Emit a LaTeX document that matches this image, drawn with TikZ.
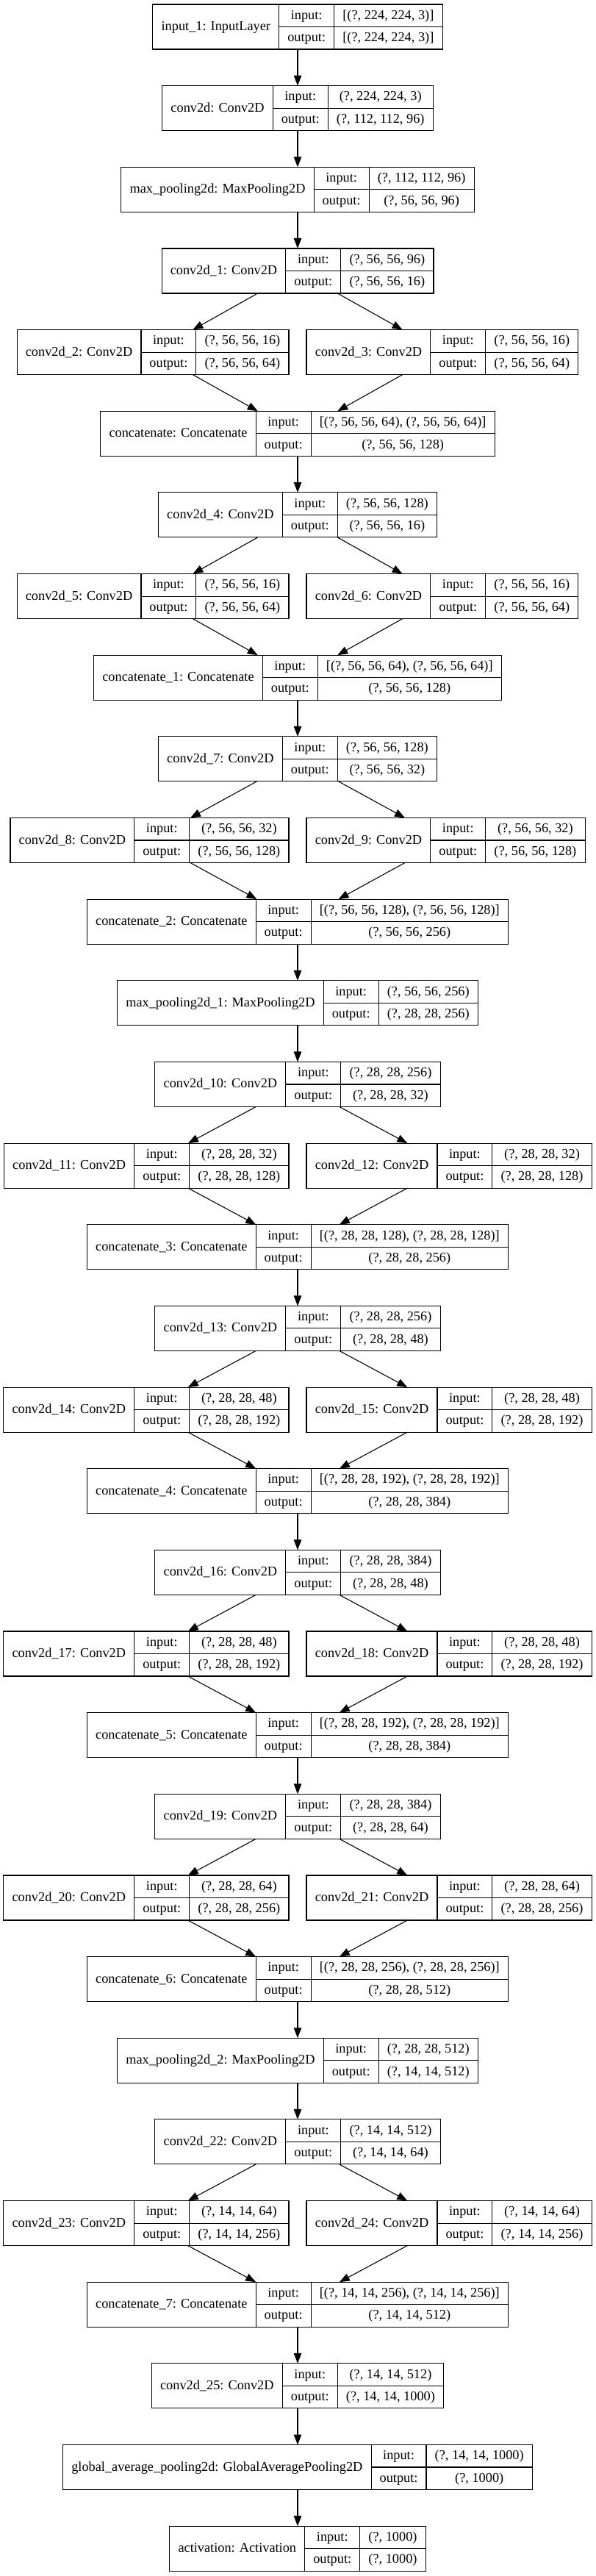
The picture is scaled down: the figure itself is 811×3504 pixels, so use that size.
\documentclass[tikz,border=0pt]{standalone}
\usepackage{fontspec}
\setmainfont{Liberation Serif}
\usetikzlibrary{arrows.meta}
\newdimen\kdA \newdimen\kdB \newdimen\kdC \newdimen\kdD
\newcommand\kfont{\rmfamily\fontsize{18.3pt}{22pt}\selectfont}
\tikzset{
  box/.style={draw, line width=1.1pt, inner sep=0pt, outer sep=0pt, minimum height=61pt},
  divline/.style={line width=1.1pt},
  txt/.style={inner sep=0pt, text height=13pt, text depth=3pt, anchor=center, font=\kfont},
  edge/.style={line width=1.1pt, -{Triangle[length=14pt, width=10.5pt]}}
}
% #1 name, #2 x, #3 fraction of width left of x, #4 rank, #5 label, #6 input, #7 output
\newcommand\kerasLayer[7]{%
  \pgfinterruptpicture
    \setbox0=\hbox{\kfont #5}\global\kdA=\wd0
    \setbox0=\hbox{\kfont output:}\global\kdB=\wd0
    \setbox0=\hbox{\kfont #6}\global\kdC=\wd0
    \setbox0=\hbox{\kfont #7}\global\kdD=\wd0
  \endpgfinterruptpicture
  \ifdim\kdD>\kdC \global\kdC=\kdD\fi
  \pgfmathsetmacro\kA{\kdA+23.5}%
  \pgfmathsetmacro\kB{\kdB+23}%
  \pgfmathsetmacro\kC{\kdC+23.5}%
  \pgfmathsetmacro\kW{\kA+\kB+\kC}%
  \pgfmathsetmacro\kL{#2-#3*\kW}%
  \pgfmathsetmacro\kT{-(6+(#4-1)*110.65)}%
  \node[box, minimum width=\kW pt, anchor=north west] (#1) at (\kL,\kT) {};
  \draw[divline] (\kL+\kA,\kT) -- ++(0,-61);
  \draw[divline] (\kL+\kA+\kB,\kT) -- ++(0,-61);
  \draw[divline] (\kL+\kA,\kT-30.5) -- (\kL+\kW,\kT-30.5);
  \node[txt] (#1-l) at (\kL+\kA/2,\kT-30.5) {#5};
  \node[txt] (#1-ik) at (\kL+\kA+\kB/2,\kT-15.25) {input:};
  \node[txt] (#1-ok) at (\kL+\kA+\kB/2,\kT-45.75) {output:};
  \node[txt] (#1-iv) at (\kL+\kA+\kB+\kC/2,\kT-15.25) {#6};
  \node[txt] (#1-ov) at (\kL+\kA+\kB+\kC/2,\kT-45.75) {#7};
}
\begin{document}
\begin{tikzpicture}[x=1pt,y=1pt]
\useasboundingbox[fill=white] (0,0) rectangle (811,-3504);
\def\mx{405}\def\lx{393}\def\rx{417}
\kerasLayer{in1}{\mx}{0.5}{1}{input\_1: InputLayer}{[(?, 224, 224, 3)]}{[(?, 224, 224, 3)]}
\kerasLayer{c0}{\mx}{0.5}{2}{conv2d: Conv2D}{(?, 224, 224, 3)}{(?, 112, 112, 96)}
\kerasLayer{mp0}{\mx}{0.5}{3}{max\_pooling2d: MaxPooling2D}{(?, 112, 112, 96)}{(?, 56, 56, 96)}
\kerasLayer{c1}{\mx}{0.5}{4}{conv2d\_1: Conv2D}{(?, 56, 56, 96)}{(?, 56, 56, 16)}
\kerasLayer{c2}{\lx}{1}{5}{conv2d\_2: Conv2D}{(?, 56, 56, 16)}{(?, 56, 56, 64)}
\kerasLayer{c3}{\rx}{0}{5}{conv2d\_3: Conv2D}{(?, 56, 56, 16)}{(?, 56, 56, 64)}
\kerasLayer{cat0}{\mx}{0.5}{6}{concatenate: Concatenate}{[(?, 56, 56, 64), (?, 56, 56, 64)]}{(?, 56, 56, 128)}
\kerasLayer{c4}{\mx}{0.5}{7}{conv2d\_4: Conv2D}{(?, 56, 56, 128)}{(?, 56, 56, 16)}
\kerasLayer{c5}{\lx}{1}{8}{conv2d\_5: Conv2D}{(?, 56, 56, 16)}{(?, 56, 56, 64)}
\kerasLayer{c6}{\rx}{0}{8}{conv2d\_6: Conv2D}{(?, 56, 56, 16)}{(?, 56, 56, 64)}
\kerasLayer{cat1}{\mx}{0.5}{9}{concatenate\_1: Concatenate}{[(?, 56, 56, 64), (?, 56, 56, 64)]}{(?, 56, 56, 128)}
\kerasLayer{c7}{\mx}{0.5}{10}{conv2d\_7: Conv2D}{(?, 56, 56, 128)}{(?, 56, 56, 32)}
\kerasLayer{c8}{\lx}{1}{11}{conv2d\_8: Conv2D}{(?, 56, 56, 32)}{(?, 56, 56, 128)}
\kerasLayer{c9}{\rx}{0}{11}{conv2d\_9: Conv2D}{(?, 56, 56, 32)}{(?, 56, 56, 128)}
\kerasLayer{cat2}{\mx}{0.5}{12}{concatenate\_2: Concatenate}{[(?, 56, 56, 128), (?, 56, 56, 128)]}{(?, 56, 56, 256)}
\kerasLayer{mp1}{\mx}{0.5}{13}{max\_pooling2d\_1: MaxPooling2D}{(?, 56, 56, 256)}{(?, 28, 28, 256)}
\kerasLayer{c10}{\mx}{0.5}{14}{conv2d\_10: Conv2D}{(?, 28, 28, 256)}{(?, 28, 28, 32)}
\kerasLayer{c11}{\lx}{1}{15}{conv2d\_11: Conv2D}{(?, 28, 28, 32)}{(?, 28, 28, 128)}
\kerasLayer{c12}{\rx}{0}{15}{conv2d\_12: Conv2D}{(?, 28, 28, 32)}{(?, 28, 28, 128)}
\kerasLayer{cat3}{\mx}{0.5}{16}{concatenate\_3: Concatenate}{[(?, 28, 28, 128), (?, 28, 28, 128)]}{(?, 28, 28, 256)}
\kerasLayer{c13}{\mx}{0.5}{17}{conv2d\_13: Conv2D}{(?, 28, 28, 256)}{(?, 28, 28, 48)}
\kerasLayer{c14}{\lx}{1}{18}{conv2d\_14: Conv2D}{(?, 28, 28, 48)}{(?, 28, 28, 192)}
\kerasLayer{c15}{\rx}{0}{18}{conv2d\_15: Conv2D}{(?, 28, 28, 48)}{(?, 28, 28, 192)}
\kerasLayer{cat4}{\mx}{0.5}{19}{concatenate\_4: Concatenate}{[(?, 28, 28, 192), (?, 28, 28, 192)]}{(?, 28, 28, 384)}
\kerasLayer{c16}{\mx}{0.5}{20}{conv2d\_16: Conv2D}{(?, 28, 28, 384)}{(?, 28, 28, 48)}
\kerasLayer{c17}{\lx}{1}{21}{conv2d\_17: Conv2D}{(?, 28, 28, 48)}{(?, 28, 28, 192)}
\kerasLayer{c18}{\rx}{0}{21}{conv2d\_18: Conv2D}{(?, 28, 28, 48)}{(?, 28, 28, 192)}
\kerasLayer{cat5}{\mx}{0.5}{22}{concatenate\_5: Concatenate}{[(?, 28, 28, 192), (?, 28, 28, 192)]}{(?, 28, 28, 384)}
\kerasLayer{c19}{\mx}{0.5}{23}{conv2d\_19: Conv2D}{(?, 28, 28, 384)}{(?, 28, 28, 64)}
\kerasLayer{c20}{\lx}{1}{24}{conv2d\_20: Conv2D}{(?, 28, 28, 64)}{(?, 28, 28, 256)}
\kerasLayer{c21}{\rx}{0}{24}{conv2d\_21: Conv2D}{(?, 28, 28, 64)}{(?, 28, 28, 256)}
\kerasLayer{cat6}{\mx}{0.5}{25}{concatenate\_6: Concatenate}{[(?, 28, 28, 256), (?, 28, 28, 256)]}{(?, 28, 28, 512)}
\kerasLayer{mp2}{\mx}{0.5}{26}{max\_pooling2d\_2: MaxPooling2D}{(?, 28, 28, 512)}{(?, 14, 14, 512)}
\kerasLayer{c22}{\mx}{0.5}{27}{conv2d\_22: Conv2D}{(?, 14, 14, 512)}{(?, 14, 14, 64)}
\kerasLayer{c23}{\lx}{1}{28}{conv2d\_23: Conv2D}{(?, 14, 14, 64)}{(?, 14, 14, 256)}
\kerasLayer{c24}{\rx}{0}{28}{conv2d\_24: Conv2D}{(?, 14, 14, 64)}{(?, 14, 14, 256)}
\kerasLayer{cat7}{\mx}{0.5}{29}{concatenate\_7: Concatenate}{[(?, 14, 14, 256), (?, 14, 14, 256)]}{(?, 14, 14, 512)}
\kerasLayer{c25}{\mx}{0.5}{30}{conv2d\_25: Conv2D}{(?, 14, 14, 512)}{(?, 14, 14, 1000)}
\kerasLayer{gap}{\mx}{0.5}{31}{global\_average\_pooling2d: GlobalAveragePooling2D}{(?, 14, 14, 1000)}{(?, 1000)}
\kerasLayer{act}{\mx}{0.5}{32}{activation: Activation}{(?, 1000)}{(?, 1000)}
% edges
\draw[edge] (in1) -- (c0);
\draw[edge] (c0) -- (mp0);
\draw[edge] (mp0) -- (c1);
\draw[edge] (c1) -- (c2);
\draw[edge] (c1) -- (c3);
\draw[edge] (c2) -- (cat0);
\draw[edge] (c3) -- (cat0);
\draw[edge] (cat0) -- (c4);
\draw[edge] (c4) -- (c5);
\draw[edge] (c4) -- (c6);
\draw[edge] (c5) -- (cat1);
\draw[edge] (c6) -- (cat1);
\draw[edge] (cat1) -- (c7);
\draw[edge] (c7) -- (c8);
\draw[edge] (c7) -- (c9);
\draw[edge] (c8) -- (cat2);
\draw[edge] (c9) -- (cat2);
\draw[edge] (cat2) -- (mp1);
\draw[edge] (mp1) -- (c10);
\draw[edge] (c10) -- (c11);
\draw[edge] (c10) -- (c12);
\draw[edge] (c11) -- (cat3);
\draw[edge] (c12) -- (cat3);
\draw[edge] (cat3) -- (c13);
\draw[edge] (c13) -- (c14);
\draw[edge] (c13) -- (c15);
\draw[edge] (c14) -- (cat4);
\draw[edge] (c15) -- (cat4);
\draw[edge] (cat4) -- (c16);
\draw[edge] (c16) -- (c17);
\draw[edge] (c16) -- (c18);
\draw[edge] (c17) -- (cat5);
\draw[edge] (c18) -- (cat5);
\draw[edge] (cat5) -- (c19);
\draw[edge] (c19) -- (c20);
\draw[edge] (c19) -- (c21);
\draw[edge] (c20) -- (cat6);
\draw[edge] (c21) -- (cat6);
\draw[edge] (cat6) -- (mp2);
\draw[edge] (mp2) -- (c22);
\draw[edge] (c22) -- (c23);
\draw[edge] (c22) -- (c24);
\draw[edge] (c23) -- (cat7);
\draw[edge] (c24) -- (cat7);
\draw[edge] (cat7) -- (c25);
\draw[edge] (c25) -- (gap);
\draw[edge] (gap) -- (act);
\end{tikzpicture}
\end{document}
